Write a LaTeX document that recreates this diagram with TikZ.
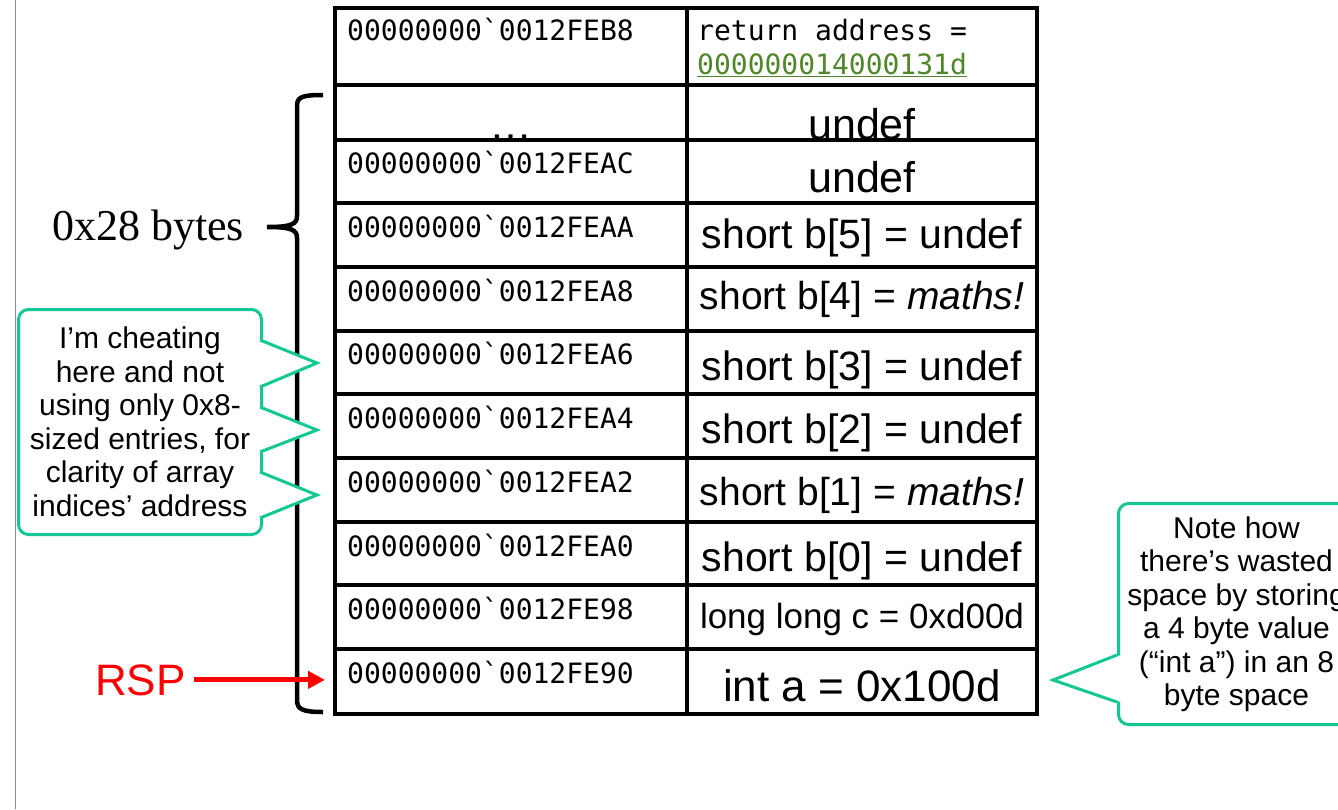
\documentclass[tikz,border=0pt]{standalone}
\usepackage{fontspec}
\setmainfont{Liberation Sans}
\setmonofont{DejaVu Sans Mono}
\newfontfamily\serifface{Liberation Serif}
\usetikzlibrary{arrows.meta}
\definecolor{calloutc}{RGB}{20,200,150}
\definecolor{linkgreen}{RGB}{80,135,40}
\begin{document}
\begin{tikzpicture}[x=1pt,y=-1pt,
  addr/.style={font=\ttfamily\fontsize{28}{30}\selectfont, anchor=base west, inner sep=0pt},
  val/.style={anchor=base, inner sep=0pt},
  cell/.style={draw=black, line width=4.5pt, anchor=north west, inner sep=0pt, outer sep=0pt},
  callbox/.style={draw=calloutc, line width=3pt, rounded corners=10pt, fill=white,
     align=center, font=\fontsize{30}{33.5}\selectfont, inner sep=0pt, anchor=north west},
  callline/.style={draw=calloutc, line width=3pt, line join=miter},
  bracestyle/.style={draw=black, line width=4.5pt}]
\useasboundingbox (0,0) rectangle (1338,809);
\clip (0,0) rectangle (1338,809);
\fill[white] (0,0) rectangle (1338,809);
% gray page edge
\draw[black!45, line width=1.5pt] (15.5,0) -- (15.5,809);

% ---- address texts
\node[addr] (ad1) at (347,40) {00000000`0012FEB8};
\node[val, font=\fontsize{43}{45}\selectfont] (ad2) at (511,139) {…};
\node[addr] (ad3) at (347,173) {00000000`0012FEAC};
\node[addr] (ad4) at (347,237) {00000000`0012FEAA};
\node[addr] (ad5) at (347,301) {00000000`0012FEA8};
\node[addr] (ad6) at (347,364) {00000000`0012FEA6};
\node[addr] (ad7) at (347,428) {00000000`0012FEA4};
\node[addr] (ad8) at (347,492) {00000000`0012FEA2};
\node[addr] (ad9) at (347,556) {00000000`0012FEA0};
\node[addr] (ad10) at (347,619) {00000000`0012FE98};
\node[addr] (ad11) at (347,683) {00000000`0012FE90};

% ---- value texts
\node[addr] (va1) at (697,40) {return address =};
\node[addr, text=linkgreen] (va1b) at (697,74) {\underline{000000014000131d}};
\node[val, font=\fontsize{43}{45}\selectfont] (va2) at (862,139) {undef};
\node[val, font=\fontsize{43}{45}\selectfont] (va3) at (862,192) {undef};
\node[val, font=\fontsize{41}{43}\selectfont] (va4) at (862,248) {short b[5] = undef};
\node[val, font=\fontsize{39}{41}\selectfont] (va5) at (862,309) {short b[4] = \textit{maths!}};
\node[val, font=\fontsize{41}{43}\selectfont] (va6) at (862,380) {short b[3] = undef};
\node[val, font=\fontsize{41}{43}\selectfont] (va7) at (862,443) {short b[2] = undef};
\node[val, font=\fontsize{39}{41}\selectfont] (va8) at (862,505) {short b[1] = \textit{maths!}};
\node[val, font=\fontsize{41}{43}\selectfont] (va9) at (862,571) {short b[0] = undef};
\node[val, font=\fontsize{35}{37}\selectfont] (va10) at (862,628) {long long c = 0xd00d};
\node[val, font=\fontsize{44}{46}\selectfont] (va11) at (862,701) {int a = 0x100d};

% ---- table cells
\foreach \t/\b [count=\i] in {8/85,85/140,140/203,203/267,267/331,331/394,394/458,458/522,522/585,585/649,649/714}{
  \pgfmathsetmacro\hh{\b-\t}
  \node[cell, minimum width=352pt, minimum height=\hh pt] (a\i) at (335,\t) {};
  \node[cell, minimum width=350pt, minimum height=\hh pt] (v\i) at (687,\t) {};
}

% ---- brace and size label
\node[font=\serifface\fontsize{44}{46}\selectfont, anchor=base west, inner sep=0pt] (bytes) at (52,240) {0x28 bytes};
\draw[bracestyle] (323,95) .. controls (302,95) and (297,97) .. (297,106)
   -- (297,216) .. controls (297,224) and (292,227) .. (267,227)
   .. controls (292,227) and (297,230) .. (297,238)
   -- (297,700) .. controls (297,709) and (302,712) .. (323,712);

% ---- RSP
\node[font=\fontsize{44}{46}\selectfont, text=red, anchor=base west, inner xsep=8pt, inner ysep=0pt] (rsp) at (87,695) {RSP};
\coordinate (rsptip) at (325,678);
\draw[red, line width=5pt, -{Triangle[length=17pt,width=17pt]}] (rsp.east) -- (rsptip |- rsp.east);

% ---- left callout
\node[callbox, minimum width=243pt, minimum height=225pt] (cheat) at (17,308)
  {I’m cheating\\here and not\\using only 0x8-\\sized entries, for\\clarity of array\\indices’ address};
\coordinate (p1) at (317,363);
\coordinate (p2) at (317,430);
\coordinate (p3) at (317,495);
\fill[white] (256,340) -- (p1) -- (256,387) -- cycle;
\fill[white] (256,407) -- (p2) -- (256,452) -- cycle;
\fill[white] (256,472) -- (p3) -- (256,518) -- cycle;
\draw[callline] (260,340) -- (p1) -- (260,387);
\draw[callline] (260,407) -- (p2) -- (260,452);
\draw[callline] (260,472) -- (p3) -- (260,518);

% ---- right callout
\node[callbox, minimum width=236pt, minimum height=221pt] (note) at (1117,502)
  {Note how\\there’s wasted\\space by storing\\a 4 byte value\\(“int a”) in an 8\\byte space};
\coordinate (p4) at (1053,680);
\fill[white] (1121,655) -- (p4) -- (1121,702) -- cycle;
\draw[callline] (1117,655) -- (p4) -- (1117,702);
\end{tikzpicture}
\end{document}
